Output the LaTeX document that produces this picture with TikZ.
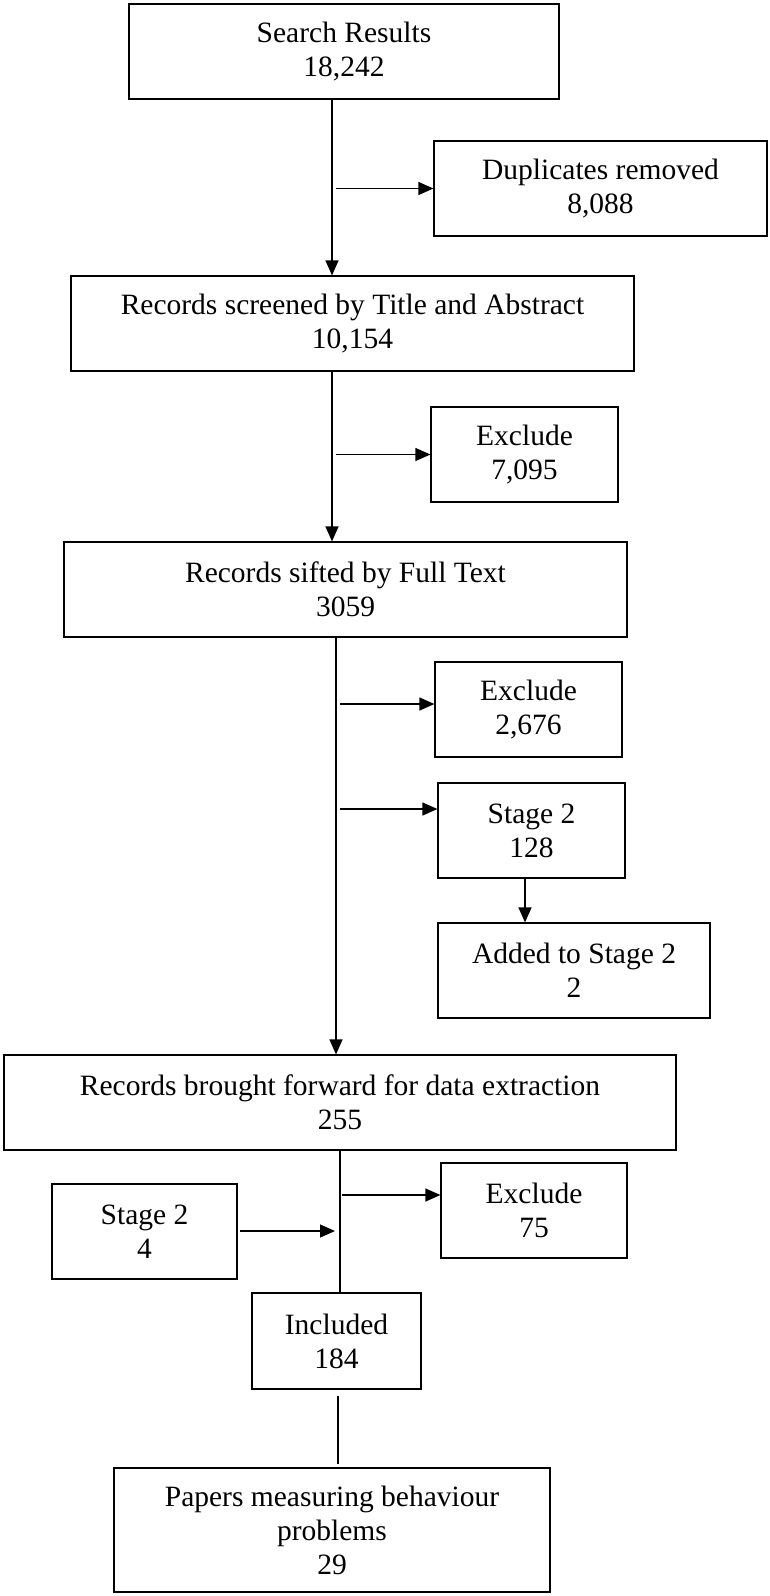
\documentclass[tikz,border=0pt]{standalone}
\usepackage{fontspec}
\setmainfont{Liberation Serif}
\usetikzlibrary{arrows.meta}

\tikzset{
  box/.style={draw, line width=1.2pt, inner sep=0pt, align=center, minimum height=95pt,
    font=\fontsize{29.5}{34}\selectfont},
  arr/.style={line width=1.2pt, -{Triangle[length=15pt,width=13pt]}},
  link/.style={line width=1.2pt}
}

\begin{document}
\begin{tikzpicture}[x=1pt,y=-1pt]
                    \useasboundingbox (0,0) rectangle (769,1596);
                    \node[box, minimum width=430pt] (search) at (344,51.5) {Search Results\\18,242};
                    \node[box, minimum width=333pt] (dup) at (600.5,188.5) {Duplicates removed\\8,088};
                    \node[box, minimum width=563pt] (screen) at (352.5,323.5) {Records screened by Title and Abstract\\10,154};
                    \node[box, minimum width=187pt] (excla) at (524.5,454.5) {Exclude\\7,095};
                    \node[box, minimum width=563pt] (sift) at (345.5,589.5) {Records sifted by Full Text\\3059};
                    \node[box, minimum width=187pt] (exclb) at (528.5,709.5) {Exclude\\2,676};
                    \node[box, minimum width=187pt] (stagea) at (531.5,830.5) {Stage 2\\128};
                    \node[box, minimum width=272pt] (added) at (574,970.5) {Added to Stage 2\\2};
                    \node[box, minimum width=672pt] (forward) at (340,1102.5) {Records brought forward for data extraction\\255};
                    \node[box, minimum width=186pt] (exclc) at (534,1210.5) {Exclude\\75};
                    \node[box, minimum width=185pt] (stageb) at (144.5,1231.5) {Stage 2\\4};
                    \node[box, minimum width=169pt, minimum height=96pt] (incl) at (336.5,1341) {Included\\184};
                    \node[box, minimum width=436pt, minimum height=124pt] (papers) at (332,1530) {Papers measuring behaviour\\problems\\29};

                    \coordinate (ka) at (332,0);
                    \coordinate (kb) at (336,0);
                    \coordinate (kc) at (340,0);
                    \coordinate (kd) at (525,0);
                    \coordinate (ke) at (338,0);
                    \coordinate (da) at (336,188.5);
                    \coordinate (db) at (336,454.5);
                    \coordinate (dc) at (340,704);
                    \coordinate (dd) at (340,809);
                    \coordinate (de) at (342,1195);
                    \coordinate (df) at (240,1231);
                    \coordinate (dg) at (335,1231);

                    \draw[arr] (search.south -| ka) -- (screen.north -| ka);
                    \draw[arr] (screen.south -| ka) -- (sift.north -| ka);
                    \draw[arr] (sift.south -| kb) -- (forward.north -| kb);
                    \draw[link] (forward.south -| kc) -- (incl.north -| kc);
                    \draw[link, shorten <=6pt, shorten >=3pt] (incl.south -| ke) -- (papers.north -| ke);
                    \draw[arr] (stagea.south -| kd) -- (added.north -| kd);

                    \draw[arr] (da) -- (dup.west |- da);
                    \draw[arr] (db) -- (excla.west |- db);
                    \draw[arr] (dc) -- (exclb.west |- dc);
                    \draw[arr] (dd) -- (stagea.west |- dd);
                    \draw[arr] (de) -- (exclc.west |- de);
                    \draw[arr] (df) -- (dg);
                \end{tikzpicture}
\end{document}
